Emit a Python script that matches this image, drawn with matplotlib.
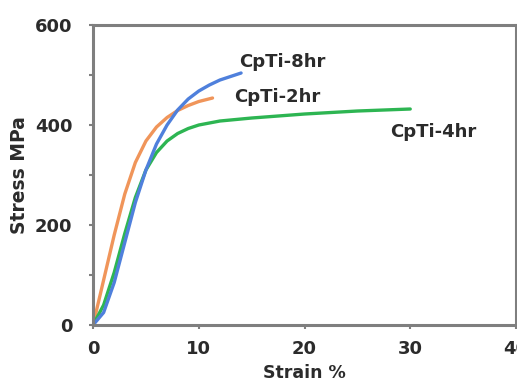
import matplotlib
matplotlib.use('Agg')
from matplotlib import pyplot as plt
from matplotlib.ticker import MultipleLocator

# strain (%) / stress (MPa)
strain_8hr = [0, 1, 2, 3, 4, 5, 6, 7, 8, 9, 10, 11, 12, 13, 14]
stress_8hr = [0, 25, 85, 165, 245, 310, 362, 400, 430, 452, 468, 480, 490, 497, 504]

strain_2hr = [0, 1, 2, 3, 4, 5, 6, 7, 8, 9, 10, 11.3]
stress_2hr = [0, 90, 180, 262, 325, 368, 396, 415, 429, 439, 447, 454]

strain_4hr = [0, 1, 2, 3, 4, 5, 6, 7, 8, 9, 10, 12, 15, 20, 25, 30]
stress_4hr = [0, 40, 105, 183, 255, 310, 345, 368, 383, 393, 400, 408, 414, 422, 428, 432]

y_ticks = [0, 200, 400, 600]
x_ticks = [0, 10, 20, 30, 40]

gray = '#7f7f7f'
text_c = '#2b2b2b'

fig = plt.figure(figsize=(5.17, 3.89), dpi=100)
ax = fig.add_axes([0.18, 0.1645, 0.818, 0.7712])

ax.plot(strain_2hr, stress_2hr, c='#f0955a', lw=2.4, solid_capstyle='round')
ax.plot(strain_4hr, stress_4hr, c='#2db552', lw=2.4, solid_capstyle='round')
ax.plot(strain_8hr, stress_8hr, c='#4f80dc', lw=2.4, solid_capstyle='round')

ax.text(17.9, 526, 'CpTi-8hr', ha='center', va='center', fontsize=13, fontweight='bold', color=text_c)
ax.text(17.4, 456, 'CpTi-2hr', ha='center', va='center', fontsize=13, fontweight='bold', color=text_c)
ax.text(32.2, 386, 'CpTi-4hr', ha='center', va='center', fontsize=13, fontweight='bold', color=text_c)

ax.set_xlim(0, 40)
ax.set_ylim(0, 600)
ax.set_xticks(x_ticks)
ax.set_yticks(y_ticks)
ax.yaxis.set_minor_locator(MultipleLocator(100))
ax.tick_params(axis='both', which='both', direction='out', length=3, width=1.5,
               color=gray, labelcolor=text_c, labelsize=13)
ax.tick_params(axis='y', pad=12)
ax.tick_params(axis='x', pad=8)
for lbl in ax.get_xticklabels() + ax.get_yticklabels():
    lbl.set_fontweight('bold')

for s in ax.spines.values():
    s.set_color(gray)
    s.set_linewidth(2.2)

ax.set_xlabel('Strain %', fontsize=12.5, fontweight='bold', color=text_c, labelpad=4)
ax.set_ylabel('Stress MPa', fontsize=13.5, fontweight='bold', color=text_c, labelpad=4)

fig.savefig('out.png', dpi=100)
